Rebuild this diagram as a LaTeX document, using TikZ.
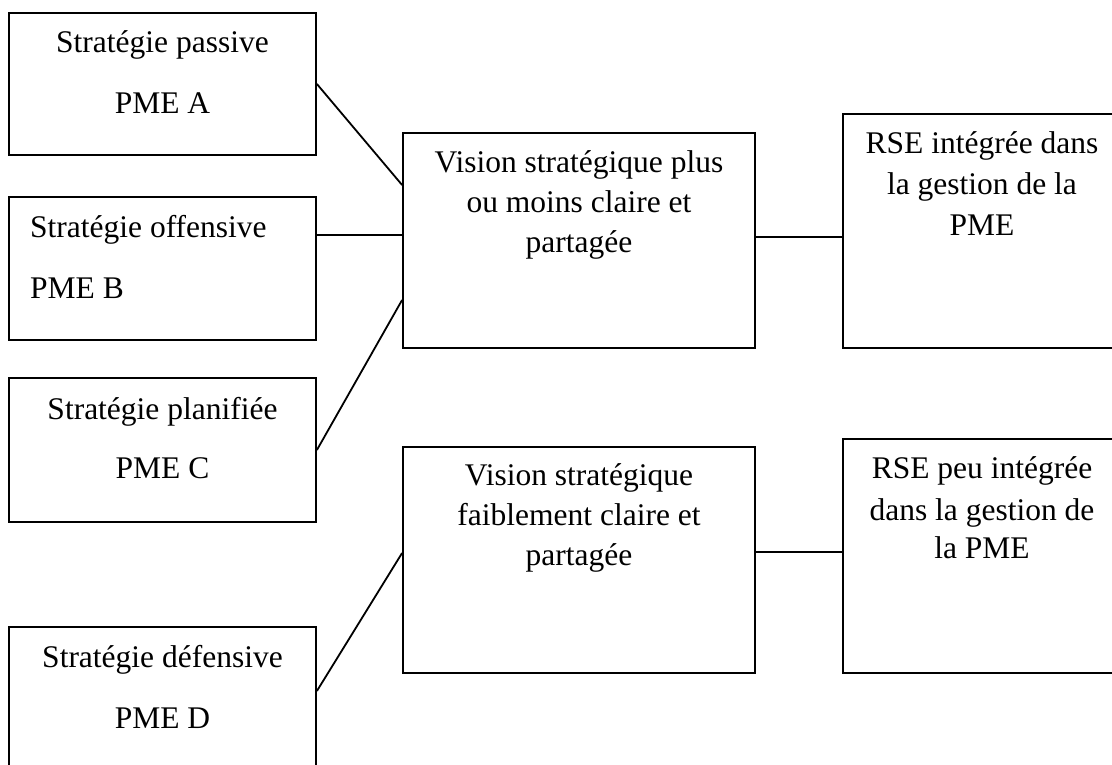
\documentclass[tikz,border=0pt]{standalone}
\usepackage{fontspec}
\setmainfont{Liberation Serif}
\begin{document}
\begin{tikzpicture}[x=1pt,y=-1pt,
  box/.style={draw,line width=1.8pt,inner sep=0pt},
  txt/.style={anchor=base,inner sep=0pt,font=\fontsize{31.5}{40}\selectfont},
  txtl/.style={txt,anchor=base west},
  conn/.style={line width=1.8pt}]
\useasboundingbox (0,0) rectangle (1112,765);
\clip (0,0) rectangle (1112,765);
% left boxes
\node[box,minimum width=307pt,minimum height=142pt] (a) at (162.5,84) {};
\node[box,minimum width=307pt,minimum height=143pt] (b) at (162.5,268.5) {};
\node[box,minimum width=307pt,minimum height=144pt] (c) at (162.5,450) {};
\node[box,minimum width=307pt,minimum height=163pt] (d) at (162.5,708.5) {};
% middle boxes
\node[box,minimum width=352pt,minimum height=215pt] (v1) at (579,240.5) {};
\node[box,minimum width=352pt,minimum height=226pt] (v2) at (579,560) {};
% right boxes
\node[box,minimum width=278pt,minimum height=234pt] (r1) at (982,231) {};
\node[box,minimum width=278pt,minimum height=234pt] (r2) at (982,556) {};
% texts
\node[txt] (a1) at (162.5,53) {Stratégie passive};
\node[txt] (a2) at (162.5,114) {PME A};
\node[txtl] (b1) at (30,237) {Stratégie offensive};
\node[txtl] (b2) at (30,298) {PME B};
\node[txt] (c1) at (162.5,419) {Stratégie planifiée};
\node[txt] (c2) at (162.5,478) {PME C};
\node[txt] (d1) at (162.5,667) {Stratégie défensive};
\node[txt] (d2) at (162.5,728) {PME D};
\node[txt] (v11) at (579,173) {Vision stratégique plus};
\node[txt] (v12) at (579,213) {ou moins claire et};
\node[txt] (v13) at (579,252) {partagée};
\node[txt] (v21) at (579,485) {Vision stratégique};
\node[txt] (v22) at (579,525) {faiblement claire et};
\node[txt] (v23) at (579,565) {partagée};
\node[txt] (r11) at (982,154) {RSE intégrée dans};
\node[txt] (r12) at (982,194) {la gestion de la};
\node[txt] (r13) at (982,235) {PME};
\node[txt] (r21) at (982,478) {RSE peu intégrée};
\node[txt] (r22) at (982,520) {dans la gestion de};
\node[txt] (r23) at (982,558) {la PME};
% connectors
\draw[conn] (a.east) -- ([yshift=55.5pt]v1.west);
\draw[conn] ([yshift=33.5pt]b.east) coordinate (bp) -- (bp -| v1.west);
\draw[conn] (c.east) -- ([yshift=-59.5pt]v1.west);
\draw[conn] ([yshift=17.5pt]d.east) -- ([yshift=7pt]v2.west);
\draw[conn] ([yshift=3.5pt]v1.east) coordinate (vp1) -- (vp1 -| r1.west);
\draw[conn] ([yshift=8pt]v2.east) coordinate (vp2) -- (vp2 -| r2.west);
\end{tikzpicture}
\end{document}
